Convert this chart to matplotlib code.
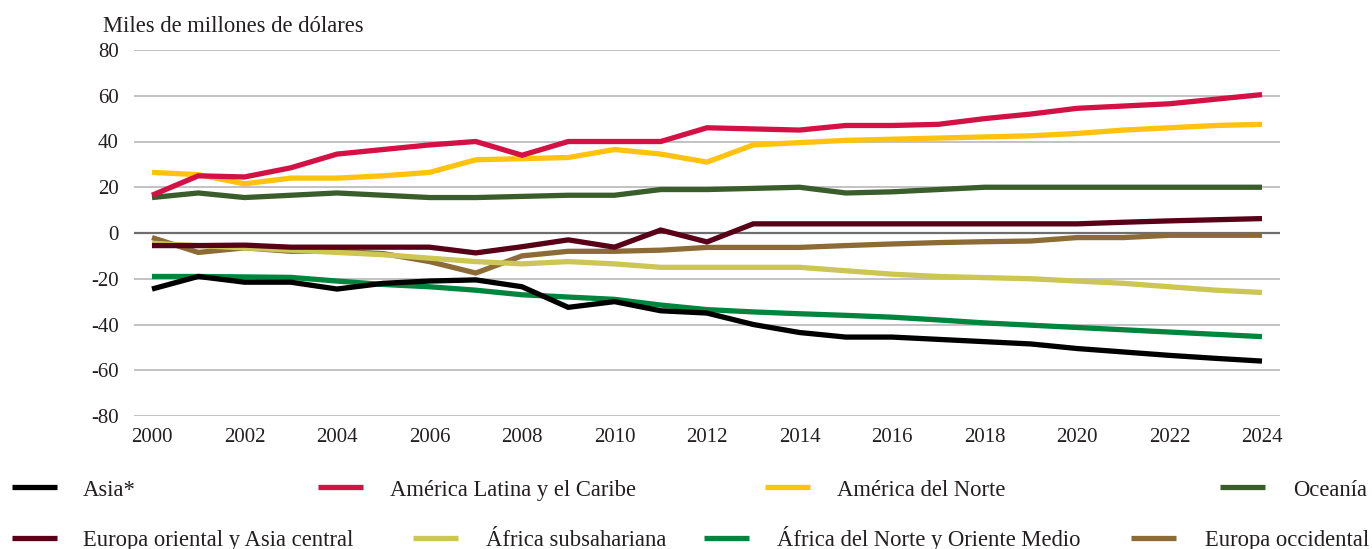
#!/usr/bin/env python3
# -*- coding: utf-8 -*-

"""
Saldo por región, 2000-2024 (miles de millones de dólares)
"""

import matplotlib
matplotlib.use("Agg")
import matplotlib.pyplot as plt
from matplotlib.lines import Line2D

# ---- datos ----
years = list(range(2000, 2025))

asia = [-24.5, -19, -21.5, -21.5, -24.5, -22, -21, -20.5, -23.5, -32.5,
        -30, -34, -35, -40, -43.5, -45.5, -45.5, -46.5, -47.5, -48.5,
        -50.5, -52, -53.5, -54.8, -56]
america_latina = [16.5, 25, 24.5, 28.5, 34.5, 36.5, 38.5, 40, 34, 40,
                  40, 40, 46, 45.5, 45, 47, 47, 47.5, 50, 52,
                  54.5, 55.5, 56.5, 58.5, 60.5]
america_norte = [26.5, 25.5, 21.5, 24, 24, 25, 26.5, 32, 32.5, 33,
                 36.5, 34.5, 31, 38.5, 39.5, 40.5, 41, 41.5, 42, 42.5,
                 43.5, 45, 46, 47, 47.5]
oceania = [15.5, 17.5, 15.5, 16.5, 17.5, 16.5, 15.5, 15.5, 16, 16.5,
           16.5, 19, 19, 19.5, 20, 17.5, 18, 19, 20, 20,
           20, 20, 20, 20, 20]
europa_oriental = [-5.5, -5.5, -5.3, -6.2, -6.2, -6.2, -6.2, -8.7, -6, -3,
                   -6.2, 1.3, -3.9, 4, 4, 4, 4, 4, 4, 4,
                   4, 4.7, 5.3, 5.8, 6.3]
africa_sub = [-4.5, -5.5, -6.5, -7.5, -8.5, -9.5, -11, -12.5, -13.5, -12.5,
              -13.5, -15, -15, -15, -15, -16.5, -18, -19, -19.5, -20,
              -21, -22, -23.5, -25, -26]
africa_norte = [-19, -19, -19.2, -19.4, -21, -22.5, -23.5, -25, -27, -28,
                -29, -31.5, -33.5, -34.5, -35.3, -36, -36.8, -38, -39.3, -40.3,
                -41.3, -42.3, -43.3, -44.3, -45.3]
europa_occidental = [-2, -8.5, -6.5, -8, -8, -9, -12.5, -17.5, -10, -8,
                     -8, -7.5, -6.3, -6.3, -6.3, -5.5, -4.8, -4.2, -3.8, -3.5,
                     -2, -2, -1, -1, -1]

labels = ['Asia*', 'América Latina y el Caribe', 'América del Norte', 'Oceanía',
          'Europa oriental y Asia central', 'África subsahariana',
          'África del Norte y Oriente Medio', 'Europa occidental']
series = [asia, america_latina, america_norte, oceania,
          europa_oriental, africa_sub, africa_norte, europa_occidental]
colors = ['#000000', '#D41145', '#FFC20E', '#3A5E2B',
          '#570018', '#CCC655', '#00853E', '#8D6B37']

y_ticks = [80, 60, 40, 20, 0, -20, -40, -60, -80]
x_ticks = list(range(2000, 2025, 2))

# ---- estilo ----
plt.rcParams['font.family'] = ['Liberation Serif', 'DejaVu Serif']
TEXT = '#231F20'
W, H = 1372, 549


def fx(px):
    return px / W


def fy(py):
    return 1 - py / H


fig = plt.figure(figsize=(W / 100, H / 100), dpi=100)
ax = fig.add_axes([fx(134), fy(416), fx(1280) - fx(134), fy(50) - fy(416)])

# líneas: la primera de la leyenda queda encima
for values, color, label in reversed(list(zip(series, colors, labels))):
    ax.plot(years, values, color=color, lw=3.8, solid_capstyle='butt',
            solid_joinstyle='miter', label=label)

ax.set_ylim(-80, 80)
ax.set_xlim(2000 - 18 / 46.25, 2024 + 18 / 46.25)
ax.set_yticks(y_ticks)
ax.set_xticks(x_ticks)
ax.set_yticklabels([str(v) for v in y_ticks])
ax.set_xticklabels([str(v) for v in x_ticks])
ax.tick_params(length=0, labelsize=15, labelcolor=TEXT)
ax.tick_params(axis='y', pad=11)
ax.tick_params(axis='x', pad=9)

for v in y_ticks:
    if v == 0:
        ax.axhline(v, color='#6E6E6E', lw=1.6, zorder=1)
    else:
        ax.axhline(v, color='#BDBDBD', lw=1.3, zorder=0)

for s in ax.spines.values():
    s.set_visible(False)
ax.patch.set_alpha(0)

fig.text(fx(103), fy(32), 'Miles de millones de dólares', fontsize=16.3,
         color=TEXT, va='baseline', ha='left')

# ---- leyenda manual (dos filas) ----
legend_rows = [
    (487, 496, [(0, 12, 83), (1, 318, 390), (2, 765, 837), (3, 1220, 1293)]),
    (538, 546, [(4, 12, 83), (5, 413, 486), (6, 704, 777), (7, 1131, 1205)]),
]
for y_line, y_text, entries in legend_rows:
    for idx, x0, xt in entries:
        fig.add_artist(Line2D([fx(x0), fx(x0 + 45)], [fy(y_line), fy(y_line)],
                              transform=fig.transFigure, color=colors[idx],
                              lw=3.8, solid_capstyle='butt'))
        fig.text(fx(xt), fy(y_text), labels[idx], fontsize=16.3, color=TEXT,
                 va='baseline', ha='left')

fig.savefig('out.png', dpi=100)
